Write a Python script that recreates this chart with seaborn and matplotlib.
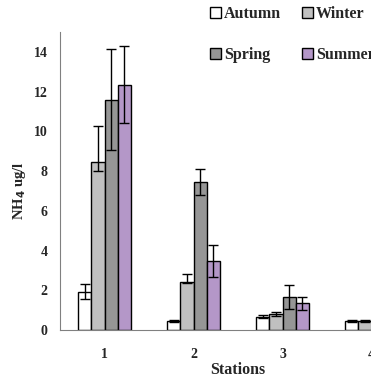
import numpy as np
import pandas as pd
import matplotlib
matplotlib.use("Agg")
import matplotlib.pyplot as plt
import seaborn as sns
from matplotlib.patches import Patch

# data (station 4 spring/summer are outside the frame)
stations = ["1", "2", "3", "4"]
seasons = ["Autumn", "Winter", "Spring", "Summer"]
autumn = [1.93, 0.45, 0.67, 0.44]
winter = [8.45, 2.42, 0.79, 0.44]
spring = [11.6, 7.44, 1.65, np.nan]
summer = [12.35, 3.46, 1.34, np.nan]
autumn_lo = [0.38, 0.03, 0.08, 0.06]
autumn_hi = [0.38, 0.03, 0.08, 0.06]
winter_lo = [0.43, 0.03, 0.10, 0.05]
winter_hi = [1.82, 0.42, 0.10, 0.05]
spring_lo = [2.55, 0.64, 0.60, np.nan]
spring_hi = [2.55, 0.64, 0.60, np.nan]
summer_lo = [1.95, 0.80, 0.33, np.nan]
summer_hi = [1.95, 0.80, 0.33, np.nan]
colors = ["#ffffff", "#c0c0c0", "#969696", "#b497c8"]

vals = [autumn, winter, spring, summer]
lows = [autumn_lo, winter_lo, spring_lo, summer_lo]
highs = [autumn_hi, winter_hi, spring_hi, summer_hi]

df = pd.DataFrame({
    "station": stations * 4,
    "season": np.repeat(seasons, 4),
    "value": autumn + winter + spring + summer,
})

sns.set_style("white")
plt.rcParams["font.family"] = ["Liberation Serif", "DejaVu Serif"]
plt.rcParams["font.weight"] = "bold"

fig = plt.figure(figsize=(3.71, 3.77), dpi=100)
ax = fig.add_axes([60 / 371, 47 / 377, 356 / 371, 298 / 377])

sns.barplot(data=df, x="station", y="value", hue="season", order=stations,
            hue_order=seasons, palette=colors, width=0.585, errorbar=None,
            edgecolor="black", linewidth=1.0, saturation=1, legend=False, ax=ax)

# seaborn skips the NaN bars, so keep only the drawn ones
for cont, v, lo, hi in zip(ax.containers, vals, lows, highs):
    keep = ~np.isnan(np.array(v))
    xs = [b.get_x() + b.get_width() / 2 for b in cont]
    ax.errorbar(xs, np.array(v)[keep],
                yerr=[np.array(lo)[keep], np.array(hi)[keep]], fmt="none",
                ecolor="black", elinewidth=1.0, capsize=3.5, capthick=1.0)

ax.set_xlim(-0.5, 3.5)
ax.set_ylim(0, 15)
ax.set_yticks(range(0, 15, 2))
ax.set_xticks([0.5, 1.5, 2.5], minor=True)
ax.tick_params(axis="x", which="major", length=0, pad=13, labelsize=10)
ax.tick_params(axis="x", which="minor", length=3, color="#808080", direction="out")
ax.tick_params(axis="y", length=3, color="#808080", direction="out", labelsize=10, pad=6)
for s in ["top", "right"]:
    ax.spines[s].set_visible(False)
ax.spines["left"].set_color("#808080")
ax.spines["bottom"].set_color("#808080")
ax.set_xlabel("Stations", fontsize=11.5, fontweight="bold", labelpad=1)
ax.set_ylabel("NH$_\\mathbf{4}$ ug/l", fontsize=10.5, fontweight="bold")
ax.yaxis.set_label_coords(-0.09, 0.466)

# legend fills column by column, so reorder to read Autumn, Winter / Spring, Summer
order = [0, 2, 1, 3]
handles = [Patch(facecolor=colors[i], edgecolor="black", linewidth=1.0) for i in order]
fig.legend(handles, [seasons[i] for i in order], loc="upper left",
           bbox_to_anchor=(0.565, 0.984), ncol=2, frameon=False,
           handlelength=0.7, handleheight=0.7, handletextpad=0.2,
           columnspacing=1.3, labelspacing=1.55, borderpad=0, borderaxespad=0,
           prop={"weight": "bold", "size": 11.5})

fig.savefig("out.png", dpi=100)
